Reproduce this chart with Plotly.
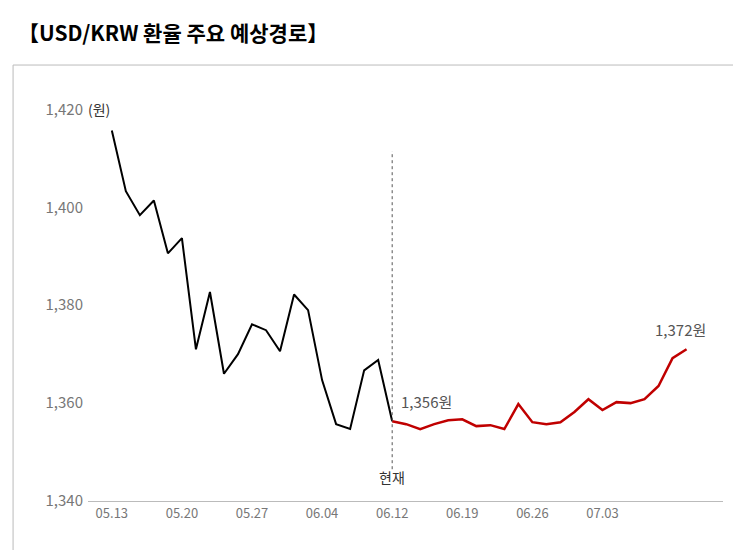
import plotly.graph_objects as go

hist_vals = [1415.7,1403.3,1398.4,1401.4,1390.6,1393.7,1371.0,1382.7,1366.0,1370.0,
             1376.1,1374.9,1370.6,1382.2,1379.0,1364.7,1355.7,1354.7,1366.7,1368.8,1356.3]
fcst_vals = [1356.3,1355.7,1354.7,1355.7,1356.5,1356.7,1355.3,1355.5,1354.7,1359.8,1356.1,
             1355.7,1356.1,1358.2,1360.8,1358.6,1360.2,1360.0,1360.8,1363.5,1369.2,1371.0]
tick_pos = [0,5,10,15,20,25,30,35]
tick_labels = ["05.13","05.20","05.27","06.04","06.12","06.19","06.26","07.03"]
y_ticks = [1340,1360,1380,1400,1420]

hx = list(range(len(hist_vals)))
fx = list(range(len(hist_vals)-1, len(hist_vals)-1+len(fcst_vals)))
font = "Noto Sans CJK KR"

fig = go.Figure()
fig.add_trace(go.Scatter(x=hx, y=hist_vals, mode="lines", line=dict(color="black", width=2)))
fig.add_trace(go.Scatter(x=fx, y=fcst_vals, mode="lines", line=dict(color="#c00000", width=2.5)))
now = hx[-1]
fig.add_shape(type="line", x0=now, x1=now, y0=1346.5, y1=1411.5, xref="x", yref="y",
              line=dict(color="#555", width=1, dash="dot"))
fig.add_annotation(x=now, y=1345, text="현재", showarrow=False, font=dict(size=14, color="#333", family=font))
fig.add_annotation(x=now+0.5, y=hist_vals[-1]+1.5, text="1,356원", showarrow=False, xanchor="left",
                   yanchor="bottom", font=dict(size=15, color="#555", family=font))
fig.add_annotation(x=fx[-1]+1.5, y=fcst_vals[-1]+1.5, text="1,372원", showarrow=False, xanchor="right",
                   yanchor="bottom", font=dict(size=15, color="#555", family=font))
fig.add_annotation(x=0, xref="paper", xanchor="left", y=1420, text="(원)", showarrow=False,
                   font=dict(size=14, color="#333", family=font), xshift=-2)
fig.add_annotation(x=0, y=1.0, xref="paper", yref="paper", yshift=70, xshift=-72, xanchor="left",
                   yanchor="top", text="<b>【USD/KRW 환율 주요 예상경로】</b>", showarrow=False,
                   font=dict(size=21, color="black", family=font))
fig.add_shape(type="rect", xref="paper", yref="paper", x0=-0.118, x1=1.031, y0=-0.125, y1=1.048,
              line=dict(color="#bbb", width=1))

fig.update_layout(
    width=741, height=550, showlegend=False, plot_bgcolor="white", paper_bgcolor="white",
    margin=dict(l=80, r=26, t=77, b=57, autoexpand=False),
    font=dict(family=font),
    xaxis=dict(range=[-1.7, 43.6], tickvals=tick_pos, ticktext=tick_labels, showgrid=False,
               zeroline=False, showline=True, linecolor="#bbb", ticks="", automargin=False,
               tickfont=dict(size=13, color="#777")),
    yaxis=dict(range=[1340, 1425], tickvals=y_ticks, automargin=False,
               ticktext=["1,340","1,360","1,380","1,400","1,420"], showgrid=False, zeroline=False,
               tickfont=dict(size=15, color="#777"), ticklabelstandoff=4),
)
fig.write_html("out.html")
